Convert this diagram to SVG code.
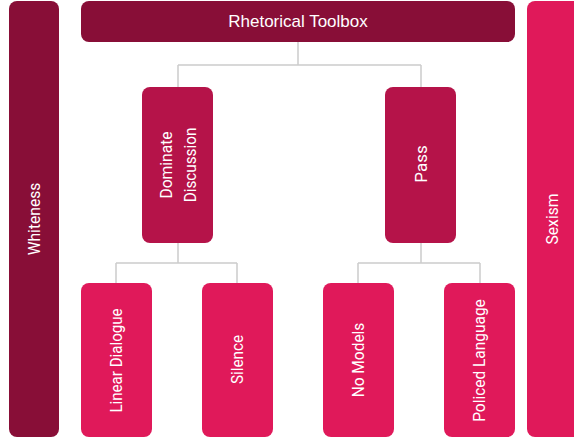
<svg xmlns="http://www.w3.org/2000/svg" width="574" height="441" viewBox="0 0 574 441">
<style>
.t{font-family:Roboto,"Liberation Sans",sans-serif;fill:#fff;font-size:17px;text-anchor:middle;dominant-baseline:central}
.h{font-family:"Liberation Sans",Arial,sans-serif;fill:#fff;font-size:17px;text-anchor:middle;dominant-baseline:central}
.c{fill:none;stroke:#cccccc;stroke-width:1.5}
.dark{fill:#880e37}
.mid{fill:#b51349}
.pink{fill:#e0195a}
</style>
<rect width="574" height="441" fill="#fff"/>
<g id="connectors">
<path class="c" d="M298 42V65M178 65H421M178 65V87M421 65V87"/>
<path class="c" d="M178 243V263M116 263H237M116 263V283M237 263V283"/>
<path class="c" d="M421 243V263M358 263H480M358 263V283M480 263V283"/>
</g>
<g id="whiteness"><rect class="dark" x="9" y="1" width="50" height="436" rx="8"/><text class="t" transform="translate(34 219) rotate(-90) scale(0.92 1)">Whiteness</text></g>
<g id="sexism"><rect class="pink" x="527" y="1" width="60" height="436" rx="8"/><text class="t" transform="translate(552 219) rotate(-90) scale(0.92 1)">Sexism</text></g>
<g id="toolbox"><rect class="dark" x="81" y="1" width="434" height="41" rx="8"/><text class="h" x="298" y="21">Rhetorical Toolbox</text></g>
<g id="dominate"><rect class="mid" x="142" y="87" width="71" height="156" rx="8"/><text class="t" transform="translate(166 165) rotate(-90) scale(0.92 1)">Dominate</text><text class="t" transform="translate(190 165) rotate(-90) scale(0.9 1)">Discussion</text></g>
<g id="pass"><rect class="mid" x="385" y="87" width="71" height="156" rx="8"/><text class="t" transform="translate(420.5 164) rotate(-90)">Pass</text></g>
<g id="linear"><rect class="pink" x="81" y="283" width="71" height="154" rx="8"/><text class="t" transform="translate(116.5 360.5) rotate(-90) scale(0.89 1)">Linear Dialogue</text></g>
<g id="silence"><rect class="pink" x="202" y="283" width="71" height="154" rx="8"/><text class="t" transform="translate(237.5 359.5) rotate(-90) scale(0.9 1)">Silence</text></g>
<g id="nomodels"><rect class="pink" x="323" y="283" width="71" height="154" rx="8"/><text class="t" transform="translate(358.5 360) rotate(-90) scale(0.91 1)">No Models</text></g>
<g id="policed"><rect class="pink" x="444" y="283" width="71" height="154" rx="8"/><text class="t" transform="translate(479.5 360.5) rotate(-90) scale(0.91 1)">Policed Language</text></g>
</svg>
